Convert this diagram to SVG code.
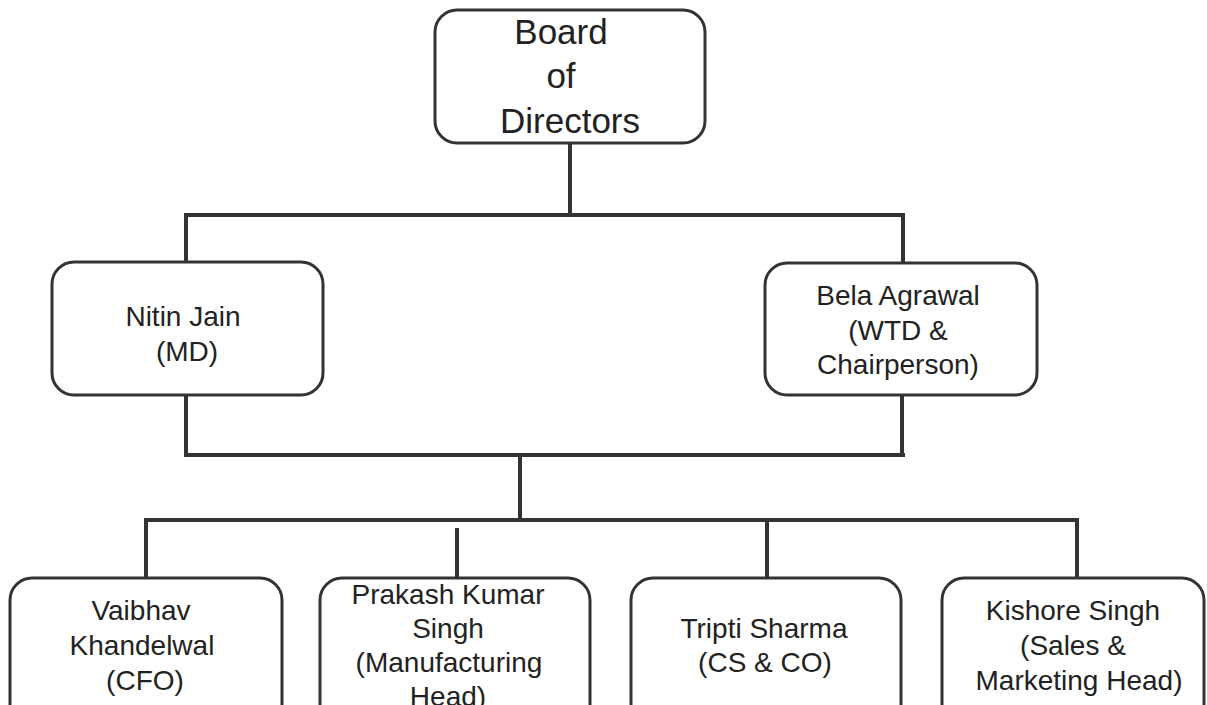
<svg xmlns="http://www.w3.org/2000/svg" width="1207" height="705" viewBox="0 0 1207 705">
<style>
.box{fill:#fff;stroke:#333;stroke-width:3}
.c{fill:none;stroke:#333;stroke-width:4;stroke-linecap:butt}
text{font-family:"Liberation Sans",Arial,sans-serif;fill:#222;text-anchor:middle;font-size:28px}
.big{font-size:35px}
</style>
<rect width="1207" height="705" fill="#fff"/>
<g id="connectors">
<path class="c" d="M570,143 V215 M186,215 H903 M186,213 V262 M903,213 V262"/>
<path class="c" d="M186,395 V455 H905 M902,395 V455 M520,455 V520"/>
<path class="c" d="M146,520 H1077 M146,518 V578 M457,528 V578 M767,520 V578 M1077,518 V578"/>
</g>
<g id="board">
<rect class="box" x="435" y="10" width="270" height="133" rx="22"/>
<text class="big" x="561" y="44">Board</text>
<text class="big" x="561" y="88">of</text>
<text class="big" x="570" y="133">Directors</text>
</g>
<g id="nitin">
<rect class="box" x="52" y="262" width="271" height="133" rx="22"/>
<text x="183" y="326">Nitin Jain</text>
<text x="187" y="361">(MD)</text>
</g>
<g id="bela">
<rect class="box" x="765" y="263" width="272" height="132" rx="22"/>
<text x="898" y="305">Bela Agrawal</text>
<text x="898" y="340">(WTD &amp;</text>
<text x="898" y="374">Chairperson)</text>
</g>
<g id="vaibhav">
<rect class="box" x="10" y="578" width="272" height="150" rx="22"/>
<text x="141" y="620">Vaibhav</text>
<text x="142" y="655">Khandelwal</text>
<text x="145" y="690">(CFO)</text>
</g>
<g id="prakash">
<rect class="box" x="320" y="578" width="270" height="150" rx="22"/>
<text x="448" y="604">Prakash Kumar</text>
<text x="448" y="638">Singh</text>
<text x="449" y="672">(Manufacturing</text>
<text x="448" y="706">Head)</text>
</g>
<g id="tripti">
<rect class="box" x="631" y="578" width="270" height="150" rx="22"/>
<text x="764" y="638">Tripti Sharma</text>
<text x="765" y="672">(CS &amp; CO)</text>
</g>
<g id="kishore">
<rect class="box" x="942" y="578" width="262" height="150" rx="22"/>
<text x="1073" y="620">Kishore Singh</text>
<text x="1073" y="655">(Sales &amp;</text>
<text x="1079" y="690">Marketing Head)</text>
</g>
</svg>
